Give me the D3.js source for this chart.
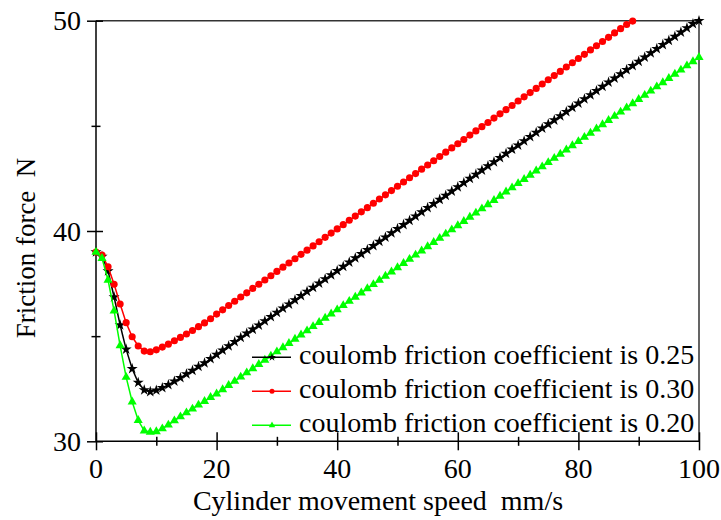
<!DOCTYPE html>
<html>
<head>
<meta charset="utf-8">
<script src="https://d3js.org/d3.v7.min.js"></script>
<style>
  body { margin: 0; background: #fff; }
</style>
</head>
<body>
<div id="chart"></div>
<script>
// speed, mm/s (one marker per unit)
const speeds = d3.range(0, 101);

// friction force, N
const mu025 = [39.0, 38.78, 38.1, 36.86, 35.53, 34.37, 33.45, 32.79, 32.44, 32.36,
  32.43, 32.54, 32.69, 32.85, 33.02, 33.2, 33.36, 33.55, 33.72, 33.92,
  34.13, 34.33, 34.53, 34.73, 34.93, 35.13, 35.32, 35.52, 35.72, 35.92,
  36.12, 36.32, 36.52, 36.72, 36.92, 37.12, 37.31, 37.51, 37.71, 37.91,
  38.11, 38.31, 38.51, 38.71, 38.91, 39.11, 39.3, 39.5, 39.7, 39.9,
  40.1, 40.3, 40.5, 40.7, 40.9, 41.1, 41.29, 41.49, 41.69, 41.89,
  42.09, 42.29, 42.49, 42.69, 42.89, 43.09, 43.28, 43.48, 43.68, 43.88,
  44.08, 44.28, 44.48, 44.68, 44.88, 45.08, 45.27, 45.47, 45.67, 45.87,
  46.07, 46.27, 46.47, 46.67, 46.87, 47.07, 47.26, 47.46, 47.66, 47.86,
  48.06, 48.26, 48.46, 48.66, 48.86, 49.06, 49.25, 49.45, 49.65, 49.85,
  50.0];

// the 0.30 curve leaves the frame at about 89 mm/s
const mu030 = [39.0, 38.86, 38.3, 37.47, 36.53, 35.64, 34.97, 34.53, 34.29, 34.26,
  34.35, 34.48, 34.62, 34.78, 34.94, 35.1, 35.27, 35.45, 35.63, 35.83,
  36.05, 36.25, 36.46, 36.66, 36.86, 37.06, 37.27, 37.47, 37.67, 37.87,
  38.08, 38.28, 38.48, 38.68, 38.89, 39.09, 39.29, 39.49, 39.7, 39.9,
  40.1, 40.3, 40.51, 40.71, 40.91, 41.11, 41.32, 41.52, 41.72, 41.92,
  42.13, 42.33, 42.53, 42.73, 42.94, 43.14, 43.34, 43.54, 43.75, 43.95,
  44.15, 44.35, 44.56, 44.76, 44.96, 45.16, 45.37, 45.57, 45.77, 45.97,
  46.18, 46.38, 46.58, 46.78, 46.99, 47.19, 47.39, 47.59, 47.8, 48.0,
  48.2, 48.4, 48.61, 48.81, 49.01, 49.21, 49.42, 49.62, 49.82, 49.98];

const mu020 = [39.0, 38.7, 37.67, 36.2, 34.55, 33.05, 31.88, 31.0, 30.5, 30.44,
  30.46, 30.6, 30.78, 30.98, 31.17, 31.36, 31.54, 31.73, 31.9, 32.09,
  32.26, 32.46, 32.66, 32.86, 33.06, 33.26, 33.46, 33.66, 33.86, 34.06,
  34.26, 34.46, 34.66, 34.86, 35.06, 35.26, 35.46, 35.66, 35.86, 36.06,
  36.26, 36.46, 36.66, 36.86, 37.06, 37.26, 37.46, 37.66, 37.86, 38.06,
  38.26, 38.46, 38.66, 38.86, 39.06, 39.26, 39.46, 39.66, 39.86, 40.06,
  40.26, 40.46, 40.66, 40.86, 41.06, 41.26, 41.46, 41.66, 41.86, 42.06,
  42.26, 42.46, 42.66, 42.86, 43.06, 43.26, 43.46, 43.66, 43.86, 44.06,
  44.26, 44.46, 44.66, 44.86, 45.06, 45.26, 45.46, 45.66, 45.86, 46.06,
  46.26, 46.46, 46.66, 46.86, 47.06, 47.26, 47.46, 47.66, 47.86, 48.06,
  48.26];

const legendLabels = [
  "coulomb friction coefficient is 0.25",
  "coulomb friction coefficient is 0.30",
  "coulomb friction coefficient is 0.20"
];
const xMajor = [0, 20, 40, 60, 80, 100];
const xMinor = [10, 30, 50, 70, 90];
const yMajor = [30, 40, 50];
const yMinor = [35, 45];

const FONT = "'Liberation Serif', 'Times New Roman', Times, serif";
const W = 721, H = 520;
const margin = {left: 96, right: 22, top: 20.7, bottom: 78.7};

const svg = d3.select("#chart").append("svg")
  .attr("width", W).attr("height", H)
  .attr("font-family", FONT);

const x = d3.scaleLinear().domain([0, 100]).range([margin.left, W - margin.right]);
const y = d3.scaleLinear().domain([30, 50]).range([H - margin.bottom, margin.top]);

// frame top + right
svg.append("path")
  .attr("d", `M${x(0)},${y(50)}H${x(100)}V${y(30)}`)
  .attr("fill", "none").attr("stroke", "#333").attr("stroke-width", 1.5);

// axes with ticks crossing the line
function crossAxis(g, axisFn, scale, values, inner, outer) {
  g.call(axisFn(scale).tickValues(values).tickSize(outer).tickFormat(""))
    .call(s => s.select(".domain").remove());
  g.selectAll(".tick line")
    .attr("stroke-width", 1.5)
    .each(function() {
      const l = d3.select(this);
      if (l.attr("y2") != null && +l.attr("y2") !== 0) l.attr("y1", -inner);
      else l.attr("x1", inner);
    });
}

const xAxisG = svg.append("g").attr("transform", `translate(0,${y(30)})`);
crossAxis(xAxisG.append("g"), d3.axisBottom, x, xMajor, 9, 9);
crossAxis(xAxisG.append("g"), d3.axisBottom, x, xMinor, 4.5, 4.5);
xAxisG.append("line").attr("x1", x(0)).attr("x2", x(100))
  .attr("stroke", "#000").attr("stroke-width", 1.5);
xAxisG.selectAll("text.lbl").data(xMajor).join("text")
  .attr("class", "lbl")
  .attr("x", d => x(d)).attr("y", 37)
  .attr("text-anchor", "middle").attr("font-size", 28)
  .attr("font-family", FONT)
  .text(d => d);

const yAxisG = svg.append("g").attr("transform", `translate(${x(0)},0)`);
crossAxis(yAxisG.append("g"), d3.axisLeft, y, yMajor, 7, 9);
crossAxis(yAxisG.append("g"), d3.axisLeft, y, yMinor, 4.5, 4.5);
yAxisG.append("line").attr("y1", y(30)).attr("y2", y(50))
  .attr("stroke", "#000").attr("stroke-width", 1.5);
yAxisG.selectAll("text.lbl").data(yMajor).join("text")
  .attr("class", "lbl")
  .attr("x", -15).attr("y", d => y(d) + 9.5)
  .attr("text-anchor", "end").attr("font-size", 28)
  .attr("font-family", FONT)
  .text(d => d);

// axis titles
svg.append("text")
  .attr("x", 378).attr("y", 510)
  .attr("text-anchor", "middle").attr("font-size", 28)
  .attr("font-family", FONT)
  .attr("xml:space", "preserve")
  .text("Cylinder movement speed  mm/s");

svg.append("text")
  .attr("transform", "translate(35,248) rotate(-90)")
  .attr("text-anchor", "middle").attr("font-size", 27)
  .attr("font-family", FONT)
  .attr("xml:space", "preserve")
  .text("Friction force  N");

// series
const series = [
  {values: mu025, color: "#000000", symbol: d3.symbolStar, size: 38},
  {values: mu030, color: "#ff0000", symbol: d3.symbolCircle, size: 40},
  {values: mu020, color: "#00ff00", symbol: d3.symbolTriangle, size: 36}
];

const line = d3.line().x(d => x(d[0])).y(d => y(d[1]));

series.forEach(s => {
  const pts = s.values.map((v, i) => [speeds[i], v]);
  svg.append("path")
    .datum(pts)
    .attr("d", line)
    .attr("fill", "none")
    .attr("stroke", s.color)
    .attr("stroke-width", 1.5);
  svg.append("g").selectAll("path")
    .data(pts).join("path")
    .attr("transform", d => `translate(${x(d[0])},${y(d[1])})`)
    .attr("d", d3.symbol().type(s.symbol).size(s.size))
    .attr("fill", s.color);
});

// legend
const legend = svg.append("g");
legendLabels.forEach((lab, i) => {
  const s = series[i];
  const ly = 357.3 + i * 34;
  legend.append("line")
    .attr("x1", 252).attr("x2", 291).attr("y1", ly).attr("y2", ly)
    .attr("stroke", s.color).attr("stroke-width", 1.5);
  legend.append("path")
    .attr("transform", `translate(272,${ly})`)
    .attr("d", d3.symbol().type(s.symbol).size(s.size * 0.5))
    .attr("fill", s.color);
  legend.append("text")
    .attr("x", 299).attr("y", ly + 7)
    .attr("font-size", 28)
    .attr("font-family", FONT)
    .text(lab);
});
</script>
</body>
</html>
